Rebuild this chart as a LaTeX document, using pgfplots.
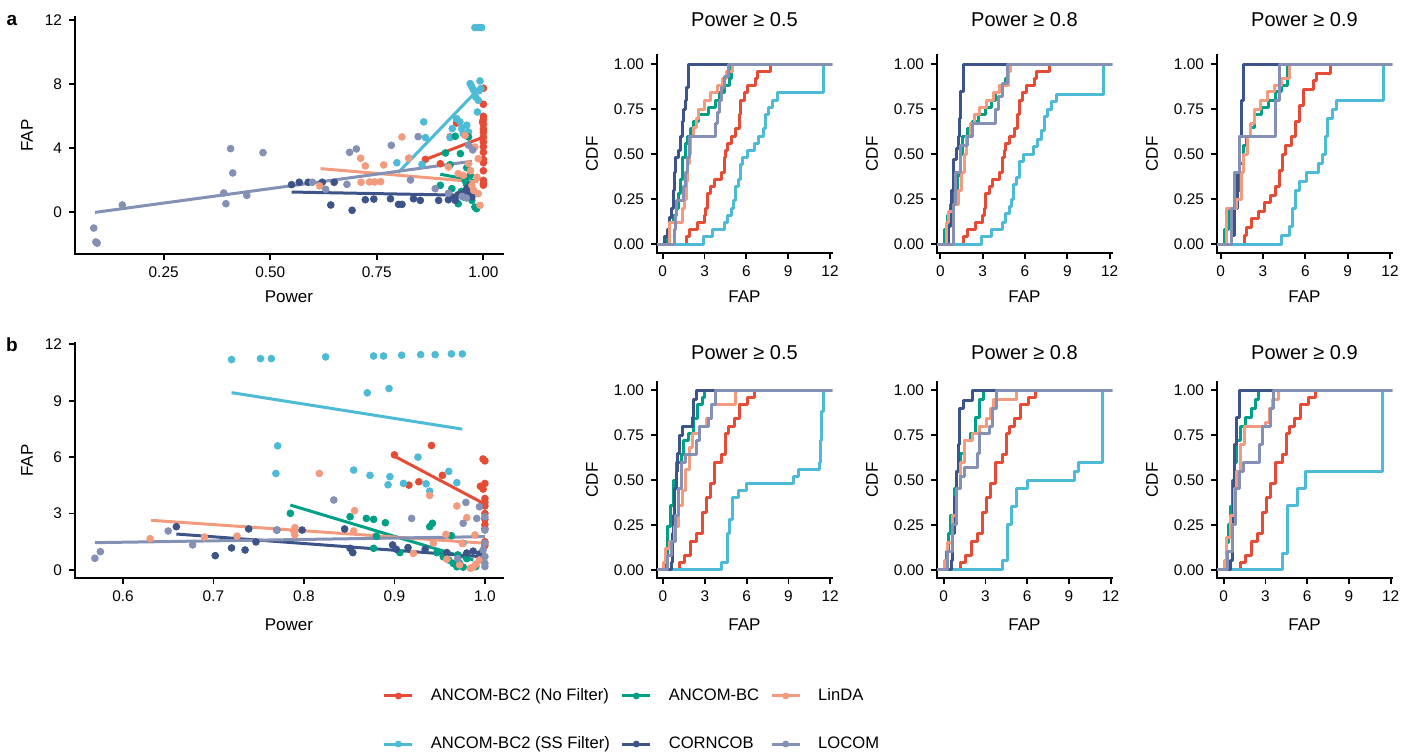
\documentclass[border=0pt]{standalone}
\usepackage{fontspec}
\setmainfont{Liberation Sans}
\usepackage{pgfplots}
\pgfplotsset{compat=1.18}
\definecolor{cNF}{HTML}{E64B35}
\definecolor{cSS}{HTML}{4DBBD5}
\definecolor{cBC}{HTML}{00A087}
\definecolor{cCO}{HTML}{3C5488}
\definecolor{cLI}{HTML}{F39B7F}
\definecolor{cLO}{HTML}{8491B4}
\pgfplotsset{
  base/.style={scale only axis, axis lines*=left,
    axis line style={line width=0.9pt, line cap=rect},
    tick style={black, line width=0.9pt}, tick align=outside, major tick length=3pt,
    xtick pos=left, ytick pos=left,
    ticklabel style={font=\fontsize{7.7}{9}\selectfont, text=black},
    label style={font=\fontsize{8.5}{10}\selectfont},
    title style={font=\fontsize{10}{12}\selectfont, anchor=center},
    /pgf/number format/assume math mode=true},
  cdf/.style={base, width=87.5pt,
    ytick={0,0.25,0.5,0.75,1}, yticklabels={0.00,0.25,0.50,0.75,1.00},
    xtick={0,3,6,9,12}, xticklabels={0,3,6,9,12},
    xlabel={FAP}, ylabel={CDF},
    ylabel style={at={(axis description cs:-0.371,0.5)}, anchor=center}},
  cdfa/.style={cdf, height=99pt, ymin=-0.05, ymax=1.05,
    xlabel style={at={(axis description cs:0.5,-0.222)}, anchor=center},
    title style={at={(axis description cs:0.5,1.177)}, anchor=center, yshift=-6pt}},
  cdfb/.style={cdf, height=98pt, ymin=-0.045, ymax=1.045,
    xlabel style={at={(axis description cs:0.5,-0.24)}, anchor=center},
    title style={at={(axis description cs:0.5,1.148)}, anchor=center, yshift=-6pt}},
  sc/.style={base, width=214pt, clip=false, xlabel={Power}, ylabel={FAP},
    ylabel style={at={(axis description cs:-0.112,0.5)}, anchor=center}},
  cl/.style={const plot, line width=1.5pt, line join=round, color=#1},
  pt/.style={only marks, mark=*, mark size=1.7pt, color=#1, mark options={draw=none, fill=#1}},
  fl/.style={line width=1.5pt, color=#1},
}
\begin{document}
\begin{tikzpicture}
\useasboundingbox (0,0) rectangle (708.5pt,376pt);
\node[font=\bfseries\fontsize{9.5}{11}\selectfont] at (6pt,366pt) {a};
\node[font=\bfseries\fontsize{9.5}{11}\selectfont] at (6pt,203.5pt) {b};

% ---------------- scatter a
\begin{axis}[sc, at={(37.5pt,249pt)}, anchor=south west, height=118.5pt,
  xmin=0.042, xmax=1.046, ymin=-2.6, ymax=12.2,
  xtick={0.25,0.5,0.75,1}, xticklabels={0.25,0.50,0.75,1.00},
  ytick={0,4,8,12}, yticklabels={0,4,8,12},
  xlabel style={at={(axis description cs:0.5,-0.181)}, anchor=center}]
\addplot[pt=cNF] coordinates {(0.864,3.31) (0.899,3.04) (0.922,4.71) (0.937,5.58) (1.0,7.75) (1.0,6.75) (1.0,6.0) (1.0,5.8) (1.0,5.5) (1.0,5.2) (1.0,5.0) (1.0,4.7) (1.0,4.4) (1.0,4.1) (1.0,3.75) (1.0,3.3) (1.0,3.1) (1.0,2.6) (1.0,2.0) (1.0,1.8) (1.0,1.7) (0.998,5.65)};
\addplot[pt=cSS] coordinates {(0.797,3.1) (0.825,3.38) (0.86,5.65) (0.864,4.67) (0.856,3.0) (0.922,4.67) (0.927,5.23) (0.937,5.85) (0.945,5.65) (0.949,5.23) (0.953,4.92) (0.961,5.44) (0.965,5.02) (0.969,8.04) (0.973,7.83) (0.977,7.63) (0.98,11.54) (0.988,11.54) (0.996,11.54) (0.988,7.0) (0.986,6.27) (0.992,8.21) (0.994,7.73) (0.982,7.2) (0.99,7.6)};
\addplot[pt=cBC] coordinates {(0.899,1.69) (0.911,3.71) (0.922,2.98) (0.926,1.48) (0.934,4.75) (0.946,3.67) (0.941,0.54) (0.953,0.96) (0.957,2.0) (0.961,2.79) (0.965,4.71) (0.969,2.31) (0.973,0.75) (0.98,0.33) (0.984,0.23) (0.96,1.8) (0.948,1.3)};
\addplot[pt=cCO] coordinates {(0.55,1.73) (0.568,1.88) (0.589,1.88) (0.622,1.88) (0.65,1.88) (0.642,0.46) (0.692,0.13) (0.723,0.79) (0.743,0.83) (0.782,0.85) (0.801,0.5) (0.809,0.5) (0.836,0.85) (0.852,0.75) (0.895,0.75) (0.918,0.79) (0.926,0.96) (0.934,0.75) (0.941,1.1) (0.953,1.21) (0.961,1.48) (0.969,1.69) (0.973,0.96) (0.965,1.3)};
\addplot[pt=cLI] coordinates {(0.616,1.65) (0.712,3.38) (0.723,2.9) (0.713,1.88) (0.733,1.9) (0.745,1.9) (0.759,1.92) (0.766,2.96) (0.809,4.71) (0.825,3.38) (0.918,2.83) (0.941,2.42) (0.953,2.31) (0.957,4.81) (0.965,3.04) (0.973,1.69) (0.977,1.38) (0.98,4.08) (0.988,3.35) (0.988,1.17) (0.992,0.44) (0.97,2.6) (0.985,2.2)};
\addplot[pt=cLO] coordinates {(0.086,-0.98) (0.091,-1.85) (0.094,-1.92) (0.153,0.46) (0.391,1.21) (0.396,0.54) (0.407,3.98) (0.412,2.46) (0.445,1.06) (0.483,3.73) (0.599,1.88) (0.63,1.44) (0.68,1.75) (0.686,3.75) (0.702,3.96) (0.784,4.19) (0.829,2.02) (0.847,4.73) (0.887,1.48) (0.918,1.2) (0.95,1.0) (0.965,4.2) (0.975,3.9) (0.96,0.9)};
\addplot[fl=cNF] coordinates {(0.864,3.3) (1.0,4.7)};
\addplot[fl=cSS] coordinates {(0.80,2.48) (0.985,7.6)};
\addplot[fl=cBC] coordinates {(0.899,2.38) (0.988,1.94)};
\addplot[fl=cCO] coordinates {(0.55,1.27) (0.973,1.06)};
\addplot[fl=cLI] coordinates {(0.618,2.73) (0.988,1.9)};
\addplot[fl=cLO] coordinates {(0.089,0) (0.973,3.19)};
\end{axis}

% ---------------- scatter b
\begin{axis}[sc, at={(37.5pt,87pt)}, anchor=south west, height=117.5pt,
  xmin=0.547, xmax=1.02, ymin=-0.43, ymax=12.07,
  xtick={0.6,0.7,0.8,0.9,1.0}, xticklabels={0.6,0.7,0.8,0.9,1.0},
  ytick={0,3,6,9,12}, yticklabels={0,3,6,9,12},
  xlabel style={at={(axis description cs:0.5,-0.2)}, anchor=center}]
\addplot[pt=cNF] coordinates {(0.9,6.12) (0.916,4.51) (0.927,4.69) (0.941,6.62) (0.953,5.03) (0.998,5.9) (1.0,5.8) (0.995,4.45) (1.0,4.6) (0.998,4.3) (1.0,3.8) (1.0,3.6) (1.0,3.4) (1.0,3.0) (1.0,2.7) (1.0,2.4) (1.0,2.2) (1.0,1.5) (1.0,1.3)};
\addplot[pt=cSS] coordinates {(0.72,11.19) (0.752,11.24) (0.764,11.24) (0.824,11.33) (0.877,11.38) (0.888,11.38) (0.908,11.42) (0.929,11.45) (0.945,11.45) (0.963,11.49) (0.975,11.49) (0.771,6.6) (0.769,5.13) (0.855,5.31) (0.87,9.42) (0.873,5.03) (0.894,9.65) (0.895,4.96) (0.893,4.53) (0.91,4.6) (0.926,6.0) (0.935,4.58) (0.939,4.19) (0.96,5.24) (0.969,4.64) (0.976,1.42)};
\addplot[pt=cBC] coordinates {(0.785,3.01) (0.851,2.83) (0.869,2.74) (0.877,2.69) (0.89,2.51) (0.877,1.15) (0.88,1.8) (0.906,0.92) (0.939,2.3) (0.942,2.48) (0.947,0.92) (0.954,0.7) (0.96,0.53) (0.963,1.82) (0.965,0.35) (0.969,0.17) (0.972,0.35) (0.976,0.15) (0.99,0.18) (0.98,0.6) (0.97,0.8)};
\addplot[pt=cCO] coordinates {(0.659,2.3) (0.702,0.76) (0.72,1.17) (0.735,1.06) (0.739,2.18) (0.747,1.49) (0.77,2.12) (0.798,2.12) (0.845,2.18) (0.851,1.15) (0.854,0.92) (0.898,1.33) (0.902,1.1) (0.915,1.19) (0.934,1.1) (0.958,0.92) (0.98,0.9) (0.987,1.0) (0.994,0.85)};
\addplot[pt=cLI] coordinates {(0.63,1.66) (0.69,1.75) (0.726,1.8) (0.817,5.13) (0.79,2.25) (0.789,2.04) (0.79,1.86) (0.856,3.15) (0.855,2.07) (0.921,0.88) (0.939,3.96) (0.943,1.42) (0.957,1.89) (0.958,0.57) (0.969,3.4) (0.972,0.27) (0.98,2.78) (0.984,0.09) (0.987,0.14) (0.989,1.86) (0.994,0.53) (0.975,1.4) (0.99,0.3)};
\addplot[pt=cLO] coordinates {(0.569,0.62) (0.575,0.97) (0.65,2.07) (0.677,1.33) (0.77,2.12) (0.833,3.72) (0.919,2.74) (0.976,2.48) (0.979,3.59) (0.991,2.74) (0.994,3.36) (1.0,2.83) (1.0,2.12) (1.0,1.42) (1.0,0.35) (1.0,0.71) (0.998,1.06) (1.0,0.18) (0.97,0.6)};
\addplot[fl=cNF] coordinates {(0.9,6.05) (1.0,3.5)};
\addplot[fl=cSS] coordinates {(0.72,9.43) (0.975,7.49)};
\addplot[fl=cBC] coordinates {(0.785,3.45) (0.987,0.53)};
\addplot[fl=cCO] coordinates {(0.659,1.91) (0.994,0.71)};
\addplot[fl=cLI] coordinates {(0.631,2.64) (1.0,1.42)};
\addplot[fl=cLO] coordinates {(0.569,1.45) (1.0,1.77)};
\end{axis}

% ---------------- CDF a1
\begin{axis}[cdfa, at={(328.5pt,249.5pt)}, anchor=south west, xmin=-0.41, xmax=12.14, title={Power ≥ 0.5}]
\addplot[cl=cNF] coordinates {(-1,0) (1.67,0.04) (1.9,0.08) (2.5,0.12) (2.98,0.16) (3.1,0.2) (3.22,0.28) (3.46,0.32) (3.7,0.36) (4.18,0.4) (4.42,0.48) (4.53,0.52) (4.65,0.56) (4.9,0.6) (5.25,0.64) (5.49,0.72) (5.6,0.8) (5.85,0.84) (6.09,0.88) (6.68,0.92) (6.8,0.96) (7.76,1.0) (13,1)};
\addplot[cl=cSS] coordinates {(-1,0) (2.95,0.04) (3.6,0.08) (4.4,0.12) (4.65,0.16) (4.9,0.2) (5.05,0.24) (5.2,0.32) (5.4,0.36) (5.6,0.44) (5.75,0.48) (6.05,0.52) (6.6,0.56) (6.9,0.6) (7.2,0.64) (7.4,0.72) (7.6,0.76) (7.9,0.8) (8.2,0.84) (11.54,1.0) (13,1)};
\addplot[cl=cBC] coordinates {(-1,0) (0.35,0.04) (0.45,0.12) (0.75,0.16) (1.0,0.2) (1.15,0.28) (1.3,0.36) (1.45,0.48) (1.6,0.56) (1.75,0.6) (2.0,0.64) (2.2,0.68) (2.6,0.72) (3.3,0.76) (3.8,0.8) (4.1,0.84) (4.4,0.88) (4.8,0.92) (4.9,1.0) (13,1)};
\addplot[cl=cCO] coordinates {(-1,0) (0.1,0.04) (0.35,0.08) (0.5,0.15) (0.65,0.2) (0.75,0.3) (0.85,0.4) (0.95,0.48) (1.15,0.52) (1.25,0.6) (1.4,0.68) (1.5,0.75) (1.6,0.8) (1.7,0.87) (1.85,1.0) (13,1)};
\addplot[cl=cLI] coordinates {(-1,0) (0.45,0.12) (1.4,0.2) (1.55,0.25) (1.7,0.35) (1.8,0.45) (1.9,0.5) (2.0,0.6) (2.2,0.65) (2.4,0.7) (2.6,0.75) (3.0,0.8) (3.4,0.84) (3.9,0.88) (4.3,0.92) (4.6,0.96) (5.0,1.0) (13,1)};
\addplot[cl=cLO] coordinates {(-1,0) (0.85,0.08) (0.9,0.16) (1.0,0.24) (1.5,0.32) (1.6,0.4) (1.8,0.48) (1.9,0.6) (3.8,0.67) (3.95,0.73) (4.1,0.8) (4.2,0.87) (4.4,0.93) (4.75,1.0) (13,1)};
\end{axis}

% ---------------- CDF a2
\begin{axis}[cdfa, at={(468.5pt,249.5pt)}, anchor=south west, xmin=-0.24, xmax=12.17, title={Power ≥ 0.8}]
\addplot[cl=cNF] coordinates {(-1,0) (1.67,0.04) (1.9,0.08) (2.5,0.12) (2.98,0.16) (3.1,0.2) (3.22,0.28) (3.46,0.32) (3.7,0.36) (4.18,0.4) (4.42,0.48) (4.53,0.52) (4.65,0.56) (4.9,0.6) (5.25,0.64) (5.49,0.72) (5.6,0.8) (5.85,0.84) (6.09,0.88) (6.68,0.92) (6.8,0.96) (7.76,1.0) (13,1)};
\addplot[cl=cSS] coordinates {(-1,0) (2.95,0.04) (3.6,0.08) (4.4,0.12) (4.65,0.17) (4.9,0.21) (5.05,0.25) (5.2,0.33) (5.4,0.37) (5.6,0.46) (5.9,0.5) (6.6,0.54) (6.9,0.58) (7.2,0.63) (7.4,0.71) (7.6,0.75) (7.9,0.79) (8.2,0.83) (11.54,1.0) (13,1)};
\addplot[cl=cBC] coordinates {(-1,0) (0.3,0.08) (0.5,0.16) (0.7,0.22) (1.0,0.3) (1.2,0.38) (1.4,0.5) (1.6,0.6) (1.9,0.64) (2.3,0.68) (2.7,0.72) (3.2,0.76) (3.6,0.8) (3.9,0.84) (4.2,0.88) (4.6,0.92) (4.85,1.0) (13,1)};
\addplot[cl=cCO] coordinates {(-1,0) (0.55,0.1) (0.7,0.2) (0.8,0.3) (0.95,0.47) (1.15,0.53) (1.25,0.6) (1.35,0.7) (1.45,0.85) (1.65,1.0) (13,1)};
\addplot[cl=cLI] coordinates {(-1,0) (0.45,0.12) (0.55,0.18) (0.9,0.22) (1.3,0.3) (1.5,0.4) (1.7,0.5) (1.85,0.6) (2.1,0.67) (2.4,0.72) (2.8,0.76) (3.3,0.8) (3.8,0.84) (4.2,0.88) (4.8,0.96) (5.0,1.0) (13,1)};
\addplot[cl=cLO] coordinates {(-1,0) (0.95,0.22) (1.05,0.4) (1.4,0.55) (1.9,0.6) (2.3,0.67) (3.9,0.75) (4.1,0.82) (4.4,0.89) (4.75,1.0) (13,1)};
\end{axis}

% ---------------- CDF a3
\begin{axis}[cdfa, at={(608.5pt,249.5pt)}, anchor=south west, xmin=-0.26, xmax=12.14, title={Power ≥ 0.9}]
\addplot[cl=cNF] coordinates {(-1,0) (1.72,0.05) (1.85,0.09) (2.2,0.14) (2.7,0.18) (3.1,0.23) (3.5,0.27) (3.9,0.32) (4.2,0.41) (4.4,0.5) (4.6,0.55) (5.0,0.6) (5.3,0.68) (5.6,0.77) (5.9,0.86) (6.6,0.91) (6.8,0.95) (7.8,1.0) (13,1)};
\addplot[cl=cSS] coordinates {(-1,0) (4.3,0.05) (4.9,0.1) (5.1,0.2) (5.3,0.3) (5.6,0.35) (6.1,0.4) (6.9,0.45) (7.2,0.5) (7.4,0.6) (7.6,0.7) (7.9,0.75) (8.2,0.8) (11.54,1.0) (13,1)};
\addplot[cl=cBC] coordinates {(-1,0) (0.3,0.08) (0.55,0.2) (1.0,0.3) (1.35,0.45) (1.6,0.55) (1.85,0.6) (2.1,0.65) (2.4,0.72) (2.9,0.76) (3.4,0.8) (3.9,0.85) (4.3,0.88) (4.75,1.0) (13,1)};
\addplot[cl=cCO] coordinates {(-1,0) (0.8,0.05) (1.0,0.2) (1.2,0.4) (1.35,0.6) (1.5,0.8) (1.65,1.0) (13,1)};
\addplot[cl=cLI] coordinates {(-1,0) (0.4,0.2) (1.1,0.25) (1.45,0.4) (1.65,0.5) (1.9,0.6) (2.1,0.67) (2.4,0.75) (2.8,0.8) (3.3,0.85) (3.8,0.88) (4.3,0.92) (4.9,1.0) (13,1)};
\addplot[cl=cLO] coordinates {(-1,0) (0.8,0.2) (1.0,0.4) (1.3,0.6) (3.85,0.8) (4.15,1.0) (13,1)};
\end{axis}

% ---------------- CDF b1
\begin{axis}[cdfb, at={(328.5pt,87pt)}, anchor=south west, xmin=-0.43, xmax=12.13, title={Power ≥ 0.5}]
\addplot[cl=cNF] coordinates {(-1,0) (1.2,0.04) (1.55,0.08) (2.0,0.16) (2.4,0.2) (2.8,0.32) (3.1,0.4) (3.4,0.48) (3.7,0.6) (4.2,0.64) (4.5,0.76) (4.7,0.8) (5.1,0.84) (5.5,0.92) (6.1,0.96) (6.6,1.0) (13,1)};
\addplot[cl=cSS] coordinates {(-1,0) (4.2,0.04) (4.6,0.2) (4.75,0.28) (5.0,0.4) (5.4,0.44) (6.0,0.48) (9.4,0.52) (9.7,0.56) (11.2,0.6) (11.3,0.72) (11.4,0.88) (11.5,1.0) (13,1)};
\addplot[cl=cBC] coordinates {(-1,0) (0.15,0.08) (0.3,0.24) (0.55,0.36) (0.75,0.5) (1.0,0.6) (1.3,0.64) (1.5,0.72) (1.8,0.76) (2.2,0.84) (2.5,0.92) (2.8,0.96) (2.95,1.0) (13,1)};
\addplot[cl=cCO] coordinates {(-1,0) (0.6,0.04) (0.65,0.2) (0.75,0.3) (0.85,0.45) (0.95,0.55) (1.05,0.65) (1.15,0.75) (1.4,0.8) (2.1,0.85) (2.2,0.95) (2.4,1.0) (13,1)};
\addplot[cl=cLI] coordinates {(-1,0) (0.05,0.04) (0.2,0.12) (0.5,0.16) (0.8,0.24) (1.1,0.36) (1.4,0.44) (1.6,0.56) (1.9,0.68) (2.1,0.76) (2.6,0.8) (3.1,0.84) (3.5,0.92) (5.2,1.0) (13,1)};
\addplot[cl=cLO] coordinates {(-1,0) (0.3,0.08) (0.6,0.16) (0.9,0.3) (1.1,0.45) (1.3,0.6) (1.6,0.64) (2.4,0.72) (2.6,0.8) (3.3,0.84) (3.5,0.92) (3.75,1.0) (13,1)};
\end{axis}

% ---------------- CDF b2
\begin{axis}[cdfb, at={(468.5pt,87pt)}, anchor=south west, xmin=-0.48, xmax=12.1, title={Power ≥ 0.8}]
\addplot[cl=cNF] coordinates {(-1,0) (1.2,0.04) (1.55,0.08) (2.0,0.16) (2.4,0.2) (2.8,0.32) (3.1,0.4) (3.4,0.48) (3.7,0.6) (4.2,0.64) (4.5,0.76) (4.7,0.8) (5.1,0.84) (5.5,0.92) (6.1,0.96) (6.6,1.0) (13,1)};
\addplot[cl=cSS] coordinates {(-1,0) (4.2,0.05) (4.6,0.25) (4.9,0.35) (5.2,0.45) (6.0,0.5) (9.4,0.55) (9.7,0.6) (11.45,1.0) (13,1)};
\addplot[cl=cBC] coordinates {(-1,0) (0.2,0.1) (0.35,0.2) (0.5,0.3) (0.75,0.45) (0.95,0.55) (1.2,0.65) (1.5,0.72) (1.9,0.76) (2.3,0.85) (2.6,0.95) (2.85,1.0) (13,1)};
\addplot[cl=cCO] coordinates {(-1,0) (0.55,0.05) (0.65,0.2) (0.8,0.4) (0.9,0.55) (1.05,0.7) (1.15,0.9) (1.4,0.94) (2.1,1.0) (13,1)};
\addplot[cl=cLI] coordinates {(-1,0) (0.05,0.05) (0.25,0.15) (0.6,0.3) (0.9,0.45) (1.2,0.6) (1.5,0.72) (2.1,0.76) (2.6,0.8) (3.1,0.84) (3.4,0.9) (3.6,0.95) (5.2,1.0) (13,1)};
\addplot[cl=cLO] coordinates {(-1,0) (0.3,0.1) (0.6,0.25) (0.95,0.45) (1.2,0.52) (1.5,0.57) (2.4,0.65) (2.6,0.76) (3.3,0.8) (3.5,0.9) (3.8,1.0) (13,1)};
\end{axis}

% ---------------- CDF b3
\begin{axis}[cdfb, at={(608.5pt,87pt)}, anchor=south west, xmin=-0.48, xmax=12.1, title={Power ≥ 0.9}]
\addplot[cl=cNF] coordinates {(-1,0) (1.2,0.04) (1.55,0.08) (2.0,0.16) (2.4,0.2) (2.8,0.32) (3.1,0.4) (3.4,0.48) (3.7,0.6) (4.2,0.64) (4.5,0.76) (4.7,0.8) (5.1,0.84) (5.5,0.92) (6.1,0.96) (6.6,1.0) (13,1)};
\addplot[cl=cSS] coordinates {(-1,0) (4.2,0.09) (4.6,0.36) (5.3,0.45) (5.9,0.55) (11.45,1.0) (13,1)};
\addplot[cl=cBC] coordinates {(-1,0) (0.2,0.15) (0.35,0.25) (0.5,0.35) (0.65,0.5) (0.8,0.6) (0.95,0.72) (1.2,0.8) (1.6,0.85) (2.0,0.9) (2.3,0.95) (2.5,1.0) (13,1)};
\addplot[cl=cCO] coordinates {(-1,0) (0.5,0.05) (0.6,0.3) (0.7,0.5) (0.8,0.7) (0.95,0.85) (1.15,1.0) (13,1)};
\addplot[cl=cLI] coordinates {(-1,0) (0.05,0.05) (0.2,0.18) (0.5,0.3) (0.75,0.45) (0.95,0.55) (1.2,0.7) (1.5,0.8) (3.0,0.82) (3.3,0.9) (3.5,0.95) (3.95,1.0) (13,1)};
\addplot[cl=cLO] coordinates {(-1,0) (0.3,0.1) (0.6,0.25) (0.85,0.45) (1.1,0.55) (1.4,0.6) (2.6,0.7) (2.8,0.8) (3.35,0.9) (3.6,1.0) (13,1)};
\end{axis}

% ---------------- legend
\begin{axis}[hide axis, scale only axis, width=1pt, height=1pt, xmin=0, xmax=1, ymin=0, ymax=1,
  at={(316.5pt,16pt)}, anchor=center,
  legend columns=3, legend cell align=left,
  legend style={at={(0.5,0.5)}, anchor=center, draw=none, fill=none,
    font=\fontsize{8.3}{10}\selectfont, row sep=12.5pt,
    /tikz/every odd column/.append style={column sep=6.5pt},
    /tikz/every even column/.append style={column sep=3.5pt}},
  legend image code/.code={\draw[#1, line width=1.5pt] (0pt,0pt) -- (14pt,0pt); \fill[#1] (7pt,0pt) circle (1.5pt);}]
\addlegendimage{cNF}\addlegendentry{ANCOM-BC2 (No Filter)}
\addlegendimage{cBC}\addlegendentry{ANCOM-BC}
\addlegendimage{cLI}\addlegendentry{LinDA}
\addlegendimage{cSS}\addlegendentry{ANCOM-BC2 (SS Filter)}
\addlegendimage{cCO}\addlegendentry{CORNCOB}
\addlegendimage{cLO}\addlegendentry{LOCOM}
\end{axis}
\end{tikzpicture}
\end{document}
